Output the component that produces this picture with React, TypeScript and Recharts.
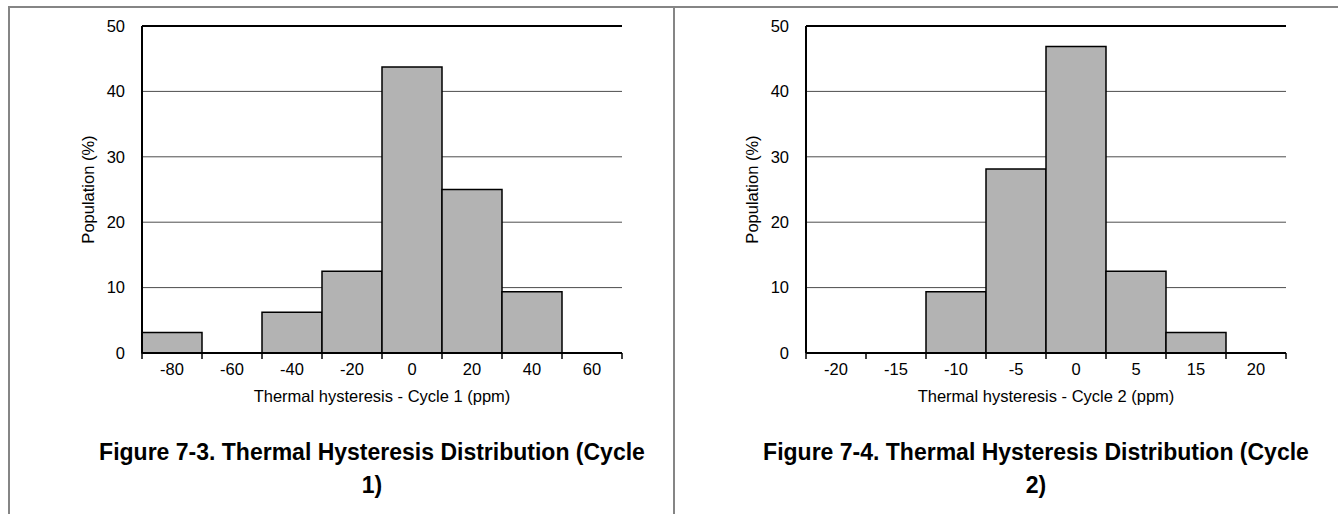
import React from 'react';
import { BarChart, Bar, XAxis, YAxis, CartesianGrid, ReferenceLine } from 'recharts';

// ---- data ----
const cycle1Bins = ['-80', '-60', '-40', '-20', '0', '20', '40', '60'];
const cycle1Population = [3.125, 0, 6.25, 12.5, 43.75, 25, 9.375, 0];
const cycle2Bins = ['-20', '-15', '-10', '-5', '0', '5', '15', '20'];
const cycle2Population = [0, 0, 9.375, 28.125, 46.875, 12.5, 3.125, 0];
const yTicks = [0, 10, 20, 30, 40, 50];
const cycle1Title = 'Thermal hysteresis - Cycle 1 (ppm)';
const cycle2Title = 'Thermal hysteresis - Cycle 2 (ppm)';
const yTitle = 'Population (%)';
const caption1 = ['Figure 7-3. Thermal Hysteresis Distribution (Cycle', '1)'];
const caption2 = ['Figure 7-4. Thermal Hysteresis Distribution (Cycle', '2)'];

const FONT = '"Liberation Sans", Arial, Helvetica, sans-serif';
const FS = 16.5;
const TICK_SIZE = 6;
const TICK_MARGIN = 4;

function BinTick(props: any) {
  const { x, y, payload, index, count, bandHalf } = props;
  const half = payload && payload.offset != null ? payload.offset : bandHalf;
  const top = y - TICK_MARGIN - TICK_SIZE;
  const bottom = y - TICK_MARGIN;
  return (
    <g>
      <line x1={x - half} x2={x - half} y1={top} y2={bottom} stroke="#000" strokeWidth={1.5} />
      {index === count - 1 && (
        <line x1={x + half} x2={x + half} y1={top} y2={bottom} stroke="#000" strokeWidth={1.5} />
      )}
      <text x={x} y={y} dy="0.71em" textAnchor="middle" fontSize={FS} fill="#000" fontFamily={FONT}>
        {payload.value}
      </text>
    </g>
  );
}

function HistChart({ bins, values, xTitle }: { bins: string[]; values: number[]; xTitle: string }) {
  const data = bins.map((b, i) => ({ bin: b, pct: values[i] }));
  return (
    <BarChart
      width={674}
      height={420}
      data={data}
      margin={{ top: 26, right: 52, left: 82, bottom: 17 }}
      barCategoryGap={0}
      barGap={0}
    >
      <CartesianGrid horizontal vertical={false} stroke="#4d4d4d" strokeWidth={1} />
      <XAxis
        dataKey="bin"
        interval={0}
        height={50}
        axisLine={{ stroke: '#000', strokeWidth: 2 }}
        tickLine={false}
        tickSize={TICK_SIZE}
        tickMargin={TICK_MARGIN}
        tick={(p: any) => <BinTick {...p} count={data.length} bandHalf={30} />}
        label={{ value: xTitle, position: 'insideBottom', offset: 1.5, fontSize: FS, fill: '#000', fontFamily: FONT }}
      />
      <YAxis
        domain={[0, 50]}
        ticks={yTicks}
        interval={0}
        width={60}
        tickLine={false}
        tickSize={0}
        tickMargin={17}
        axisLine={{ stroke: '#000', strokeWidth: 2 }}
        tick={{ fontSize: FS, fill: '#000', fontFamily: FONT }}
        label={{
          value: yTitle,
          angle: -90,
          position: 'insideLeft',
          offset: 6,
          style: { textAnchor: 'middle' },
          fontSize: FS,
          fill: '#000',
          fontFamily: FONT,
        }}
      />
      <YAxis
        yAxisId="frame"
        orientation="right"
        width={0}
        tick={false}
        tickLine={false}
        axisLine={{ stroke: '#000', strokeWidth: 2 }}
      />
      <ReferenceLine y={50} stroke="#000" strokeWidth={2} />
      <Bar dataKey="pct" fill="#b3b3b3" stroke="#000" strokeWidth={1.5} isAnimationActive={false} />
    </BarChart>
  );
}

function Caption({ lines, center }: { lines: string[]; center: number }) {
  return (
    <div
      style={{
        position: 'absolute',
        left: center - 320,
        top: 436,
        width: 640,
        textAlign: 'center',
        fontFamily: FONT,
        fontWeight: 'bold',
        fontSize: 23,
        lineHeight: '33px',
        color: '#000',
      }}
    >
      {lines[0]}
      <br />
      {lines[1]}
    </div>
  );
}

export default function App() {
  return (
    <div style={{ position: 'absolute', left: 0, top: 0, width: 1338, height: 514, background: '#fff', overflow: 'hidden' }}>
      <div style={{ position: 'absolute', left: 0, top: 0 }}>
        <HistChart bins={cycle1Bins} values={cycle1Population} xTitle={cycle1Title} />
      </div>
      <div style={{ position: 'absolute', left: 664, top: 0 }}>
        <HistChart bins={cycle2Bins} values={cycle2Population} xTitle={cycle2Title} />
      </div>
      <Caption lines={caption1} center={372} />
      <Caption lines={caption2} center={1036} />
      <div style={{ position: 'absolute', left: 8, top: 6, width: 1330, height: 2, background: '#858585' }} />
      <div style={{ position: 'absolute', left: 8, top: 6, width: 2, height: 508, background: '#858585' }} />
      <div style={{ position: 'absolute', left: 673, top: 6, width: 2, height: 508, background: '#858585' }} />
    </div>
  );
}
